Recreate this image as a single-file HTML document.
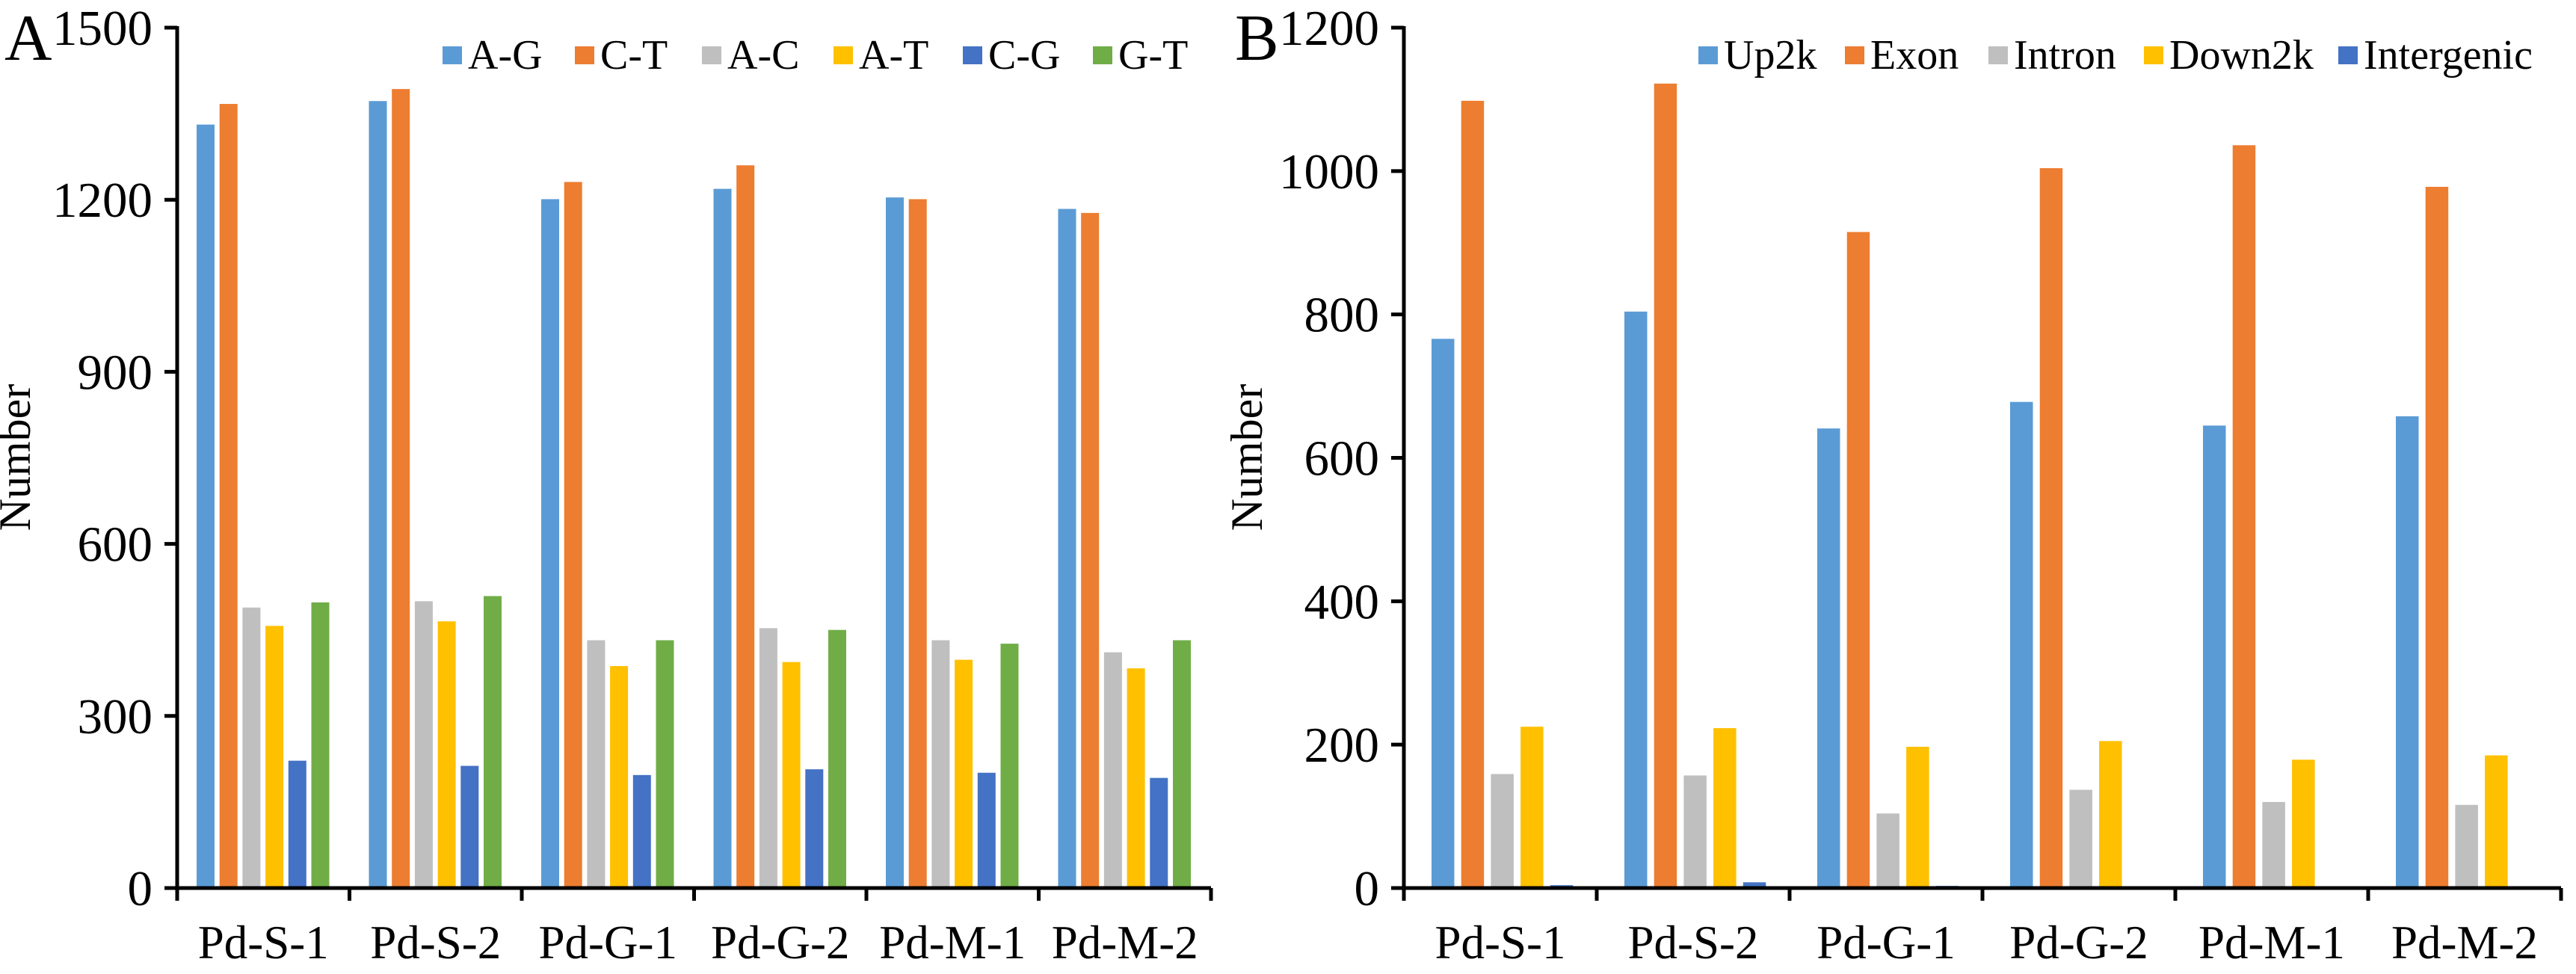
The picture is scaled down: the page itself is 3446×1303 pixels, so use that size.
<!DOCTYPE html>
<html><head><meta charset="utf-8"><style>
html,body{margin:0;padding:0;background:#fff}
svg{display:block}
text{font-family:"Liberation Serif",serif;fill:#000}
</style></head><body>
<svg id="fig" width="3446" height="1303" viewBox="0 0 3446 1303" xmlns="http://www.w3.org/2000/svg"></svg>
<script>
const categories = ["Pd-S-1","Pd-S-2","Pd-G-1","Pd-G-2","Pd-M-1","Pd-M-2"];
const seriesA = ["A-G","C-T","A-C","A-T","C-G","G-T"];
const agVals = [1331,1372,1201,1219,1204,1184];
const ctVals = [1367,1393,1231,1260,1201,1177];
const acVals = [489,500,432,453,432,411];
const atVals = [457,465,387,394,398,383];
const cgVals = [222,213,197,207,201,192];
const gtVals = [498,509,432,450,426,432];
const ticksA = [0,300,600,900,1200,1500];
const seriesB = ["Up2k","Exon","Intron","Down2k","Intergenic"];
const upVals = [766,804,641,678,645,658];
const exonVals = [1098,1122,915,1004,1036,978];
const intronVals = [159,157,104,137,120,116];
const downVals = [225,223,197,205,179,185];
const interVals = [4,8,3,2,1,1];
const ticksB = [0,200,400,600,800,1000,1200];

const NS="http://www.w3.org/2000/svg";
const svg=document.getElementById('fig');
function mk(tag,attrs,parent){const e=document.createElementNS(NS,tag);for(const k in attrs)e.setAttribute(k,attrs[k]);(parent||svg).appendChild(e);return e;}

function drawChart(cfg){
  const g=mk('g',{});
  
  
  const y0=1188, yTop=37;
  const yScale=v=>y0-(v/cfg.max)*(y0-yTop);
  const xCat=i=>cfg.x0+i*cfg.cw;
  cfg.values.forEach((arr,s)=>{
    arr.forEach((v,i)=>{
      const r=mk('rect',{x:xCat(i)+cfg.off+s*cfg.pitch,y:yScale(v),width:cfg.bw,height:y0-yScale(v),fill:cfg.colors[s]},g);
      
      
    });
  });
  const ya=mk('line',{x1:cfg.x0,y1:yTop-2,x2:cfg.x0,y2:y0+2,stroke:'#000','stroke-width':5},g);
  
  
  const xEnd=xCat(categories.length);
  const xa=mk('line',{x1:cfg.x0-2,y1:y0,x2:xEnd,y2:y0,stroke:'#000','stroke-width':5},g);
  
  
  cfg.ticks.forEach(t=>{
    const y=yScale(t);
    mk('line',{x1:cfg.x0-17,y1:y,x2:cfg.x0,y2:y,stroke:'#000','stroke-width':5},g);
    const tx=mk('text',{x:cfg.x0-33,y:y+23,'text-anchor':'end','font-size':67},g);
    tx.textContent=t;
    
    
  });
  for(let i=0;i<=categories.length;i++){
    mk('line',{x1:xCat(i),y1:y0,x2:xCat(i),y2:y0+17,stroke:'#000','stroke-width':5},g);
  }
  categories.forEach((c,i)=>{
    const tx=mk('text',{x:xCat(i)+cfg.cw/2,y:1282,'text-anchor':'middle','font-size':63},g);
    tx.textContent=c;
    
    
  });
  const yt=mk('text',{x:0,y:0,'text-anchor':'middle','font-size':60,transform:`translate(${cfg.x0-cfg.titleDx},612) rotate(-90)`},g);
  yt.textContent='Number';
  
  
  const pl=mk('text',{x:cfg.labelX,y:80,'font-size':88},g);
  pl.textContent=cfg.panel;
  
  
  cfg.series.forEach((s,k)=>{
    const lg=mk('g',{},g);
    
    
    mk('rect',{x:cfg.legX[k],y:62,width:26,height:24,fill:cfg.colors[k]},lg);
    const t=mk('text',{x:cfg.legX[k]+34,y:92,'font-size':56},lg);
    t.textContent=s;
  });
}
drawChart({name:'chart-a',panel:'A',labelX:6,x0:237,cw:230.5,off:26,pitch:30.7,bw:24,max:1500,
  ticks:ticksA,series:seriesA,values:[agVals,ctVals,acVals,atVals,cgVals,gtVals],
  colors:['#5B9BD5','#ED7D31','#BFBFBF','#FFC000','#4472C4','#70AD47'],
  legX:[592,769,939,1115,1288,1462],titleDx:197});
drawChart({name:'chart-b',panel:'B',labelX:1652,x0:1878,cw:258,off:37,pitch:39.7,bw:30.5,max:1200,
  ticks:ticksB,series:seriesB,values:[upVals,exonVals,intronVals,downVals,interVals],
  colors:['#5B9BD5','#ED7D31','#BFBFBF','#FFC000','#4472C4'],
  legX:[2272,2468,2660,2868,3128],titleDx:190});
</script>
</body></html>
